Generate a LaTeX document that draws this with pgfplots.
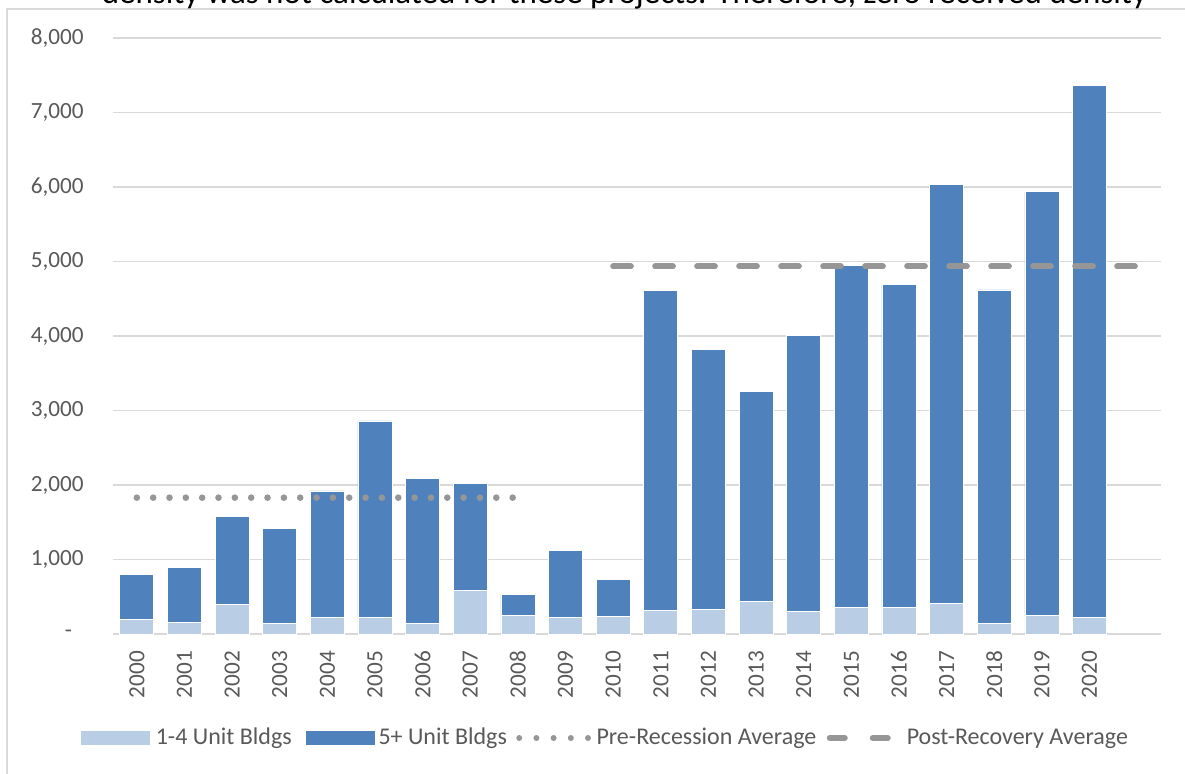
\documentclass[border=0pt]{standalone}
\usepackage{fontspec}
\setmainfont{Carlito}
\usepackage{graphicx}
\usepackage{pgfplots}
\pgfplotsset{compat=1.18}
\definecolor{lightbar}{HTML}{B9CDE5}
\definecolor{darkbar}{HTML}{4F81BD}
\definecolor{gridgray}{HTML}{D9D9D9}
\definecolor{labelgray}{HTML}{595959}
\definecolor{avggray}{HTML}{969696}
\begin{document}
\begin{tikzpicture}
\pgfplotsset{
  basestyle/.style={
    at={(0pt,0pt)}, anchor=south west,
    scale only axis, width=524pt, height=298pt,
    xmin=-0.5, xmax=21.5, ymin=0, ymax=8000,
  }
}
% bars
\begin{axis}[basestyle,
  ybar stacked, bar width=0.714,
  axis line style={draw=none},
  tick style={draw=none},
  major tick length=0pt,
  ymajorgrids, grid style={gridgray, line width=0.75pt},
  ytick={0,1000,2000,3000,4000,5000,6000,7000,8000},
  yticklabels={{-\kern5.75pt},{1,000},{2,000},{3,000},{4,000},{5,000},{6,000},{7,000},{8,000}},
  xtick={0,1,...,20},
  xticklabels={2000,2001,2002,2003,2004,2005,2006,2007,2008,2009,2010,2011,2012,2013,2014,2015,2016,2017,2018,2019,2020},
  /pgf/number format/assume math mode=true,
  ticklabel style={font=\fontsize{11.6}{14}\selectfont, text=labelgray, inner sep=0pt},
  yticklabel style={anchor=east},
  yticklabel shift=14.5pt,
  xticklabel style={rotate=90, anchor=east},
  xticklabel shift=8.35pt,
]
\addplot[fill=lightbar, draw=white, line width=0.4pt] coordinates {
(0,192) (1,152) (2,402) (3,147) (4,219) (5,228) (6,138) (7,585) (8,250) (9,223)
(10,232) (11,317) (12,330) (13,437) (14,299) (15,357) (16,357) (17,406) (18,143) (19,250) (20,223)};
\addplot[fill=darkbar, draw=white, line width=0.4pt] coordinates {
(0,608) (1,736) (2,1178) (3,1268) (4,1701) (5,2632) (6,1956) (7,1433) (8,277) (9,894)
(10,496) (11,4296) (12,3491) (13,2813) (14,3706) (15,4594) (16,4332) (17,5625) (18,4475) (19,5688) (20,7141)};
\end{axis}
% averages and legend
\begin{axis}[basestyle,
  hide axis,
  legend columns=4,
  legend style={at={(axis description cs:-0.03053,-0.1745)}, anchor=west,
    draw=none, fill=none, inner sep=0pt, outer sep=0pt, column sep=0pt,
    nodes={inner sep=0pt, outer sep=0pt, text=labelgray, font=\fontsize{12}{14}\selectfont}},
]
\addlegendimage{legend image code/.code={\fill[lightbar] (0pt,-3.25pt) rectangle (34pt,3.25pt); \path (37pt,0pt);}}
\addlegendentry{1-4 Unit Bldgs}
\addlegendimage{legend image code/.code={\path (-7pt,0pt); \fill[darkbar] (0pt,-3.25pt) rectangle (34pt,3.25pt); \path (36pt,0pt);}}
\addlegendentry{5+ Unit Bldgs}
\addplot[avggray, mark=none, line width=3.3pt, line cap=round, dash pattern=on 0pt off 8.17pt,
  legend image code/.code={\path (-3pt,0pt); \draw[avggray, line width=3pt, line cap=round, dash pattern=on 0pt off 8.6pt] (1.5pt,0pt) -- (36pt,0pt); \path (38.5pt,0pt);}]
  coordinates {(0,1830) (8,1830)};
\addlegendentry{Pre-Recession Average}
\addplot[avggray, mark=none, line width=3pt, line cap=round, dash pattern=on 8.85pt off 12.15pt,
  legend image code/.code={\path (-3.75pt,0pt); \draw[avggray, line width=3pt, line cap=round, dash pattern=on 7.5pt off 14pt] (1.5pt,0pt) -- (30.5pt,0pt); \path (38.5pt,0pt);}]
  coordinates {(10,4933) (21,4933)};
\addlegendentry{Post-Recovery Average}
\end{axis}
% chart frame
\draw[gridgray, line width=1pt] (-53pt,-90pt) -- (-53pt,312.5pt) -- (560pt,312.5pt);
% clipped text from the page above the chart
\begin{scope}
\clip (-56.5pt,313pt) rectangle (536pt,317pt);
\node[anchor=base west, inner sep=0pt] at (-5.8pt,315.1pt)
  {\resizebox{522.6pt}{!}{\fontsize{14.5}{17}\selectfont density was not calculated for these projects. Therefore, zero received density}};
\end{scope}
\pgfresetboundingbox
\path[use as bounding box] (-56.5pt,-69.5pt) rectangle (536pt,317pt);
\end{tikzpicture}
\end{document}
